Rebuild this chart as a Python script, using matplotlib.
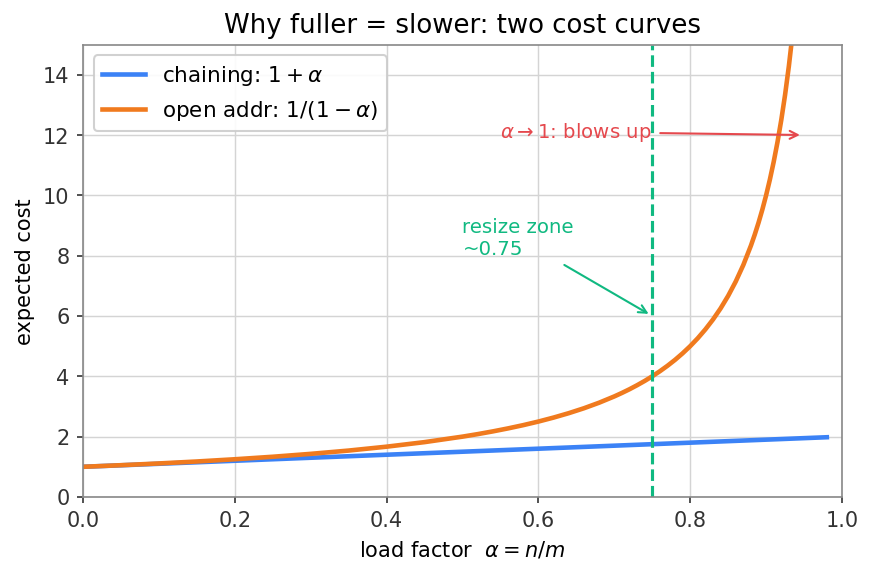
import matplotlib.pyplot as plt

# chaining cost is a straight line, read at its two ends
alpha_chain = [0.0, 0.98]
chaining = [1.0, 1.98]

# open addressing cost (dense near the blow-up)
alpha_open = [0.0, 0.05, 0.1, 0.15, 0.2, 0.25, 0.3, 0.35, 0.4, 0.45, 0.5,
              0.52, 0.54, 0.56, 0.58, 0.6, 0.62, 0.64, 0.66, 0.68, 0.7, 0.71,
              0.72, 0.73, 0.74, 0.75, 0.76, 0.77, 0.78, 0.79, 0.8, 0.81, 0.82,
              0.83, 0.84, 0.85, 0.86, 0.87, 0.88, 0.885, 0.89, 0.895, 0.9,
              0.905, 0.91, 0.915, 0.92, 0.925, 0.93, 0.935, 0.94, 0.95, 0.96,
              0.97, 0.98]
open_addr = [1.0, 1.053, 1.111, 1.176, 1.25, 1.333, 1.429, 1.538, 1.667, 1.818,
             2.0, 2.083, 2.174, 2.273, 2.381, 2.5, 2.632, 2.778, 2.941, 3.125,
             3.333, 3.448, 3.571, 3.704, 3.846, 4.0, 4.167, 4.348, 4.545, 4.762,
             5.0, 5.263, 5.556, 5.882, 6.25, 6.667, 7.143, 7.692, 8.333, 8.696,
             9.091, 9.524, 10.0, 10.526, 11.111, 11.765, 12.5, 13.333, 14.286,
             15.385, 16.667, 20.0, 25.0, 33.333, 50.0]

resize_at = 0.75

blue = "#3b82f6"
orange = "#f07a1e"
green = "#10b981"
red = "#e5484d"

fig, ax = plt.subplots(figsize=(5.82, 3.83), dpi=150)

ax.plot(alpha_chain, chaining, color=blue, lw=2.2, label=r"chaining: $1+\alpha$")
ax.plot(alpha_open, open_addr, color=orange, lw=2.2, label=r"open addr: $1/(1-\alpha)$")
ax.axvline(resize_at, color=green, lw=1.5, linestyle="--")

ax.annotate("resize zone\n~0.75", xy=(0.75, 6), xytext=(0.5, 7.9),
            color=green, fontsize=9.5, ha="left", va="bottom",
            arrowprops=dict(arrowstyle="->", color=green, lw=1))
ax.annotate(r"$\alpha\to1$: blows up", xy=(0.95, 12), xytext=(0.55, 12.1),
            color=red, fontsize=9.5, ha="left", va="center",
            arrowprops=dict(arrowstyle="->", color=red, lw=1))

ax.set_xlim(0, 1)
ax.set_ylim(0, 15)
ax.set_xlabel(r"load factor  $\alpha = n/m$", fontsize=10)
ax.set_ylabel("expected cost", fontsize=10)
ax.set_title("Why fuller = slower: two cost curves", fontsize=12.5)

ax.grid(color="#d4d4d4", lw=0.7)
ax.set_axisbelow(True)
for s in ax.spines.values():
    s.set_color("#888888")
ax.tick_params(colors="#333333", labelsize=10, length=3)

ax.legend(loc="upper left", fontsize=10.3, framealpha=0.9, edgecolor="#cccccc")

plt.subplots_adjust(left=0.095, right=0.9645, top=0.9216, bottom=0.1341)
plt.savefig("out.png", dpi=150)
